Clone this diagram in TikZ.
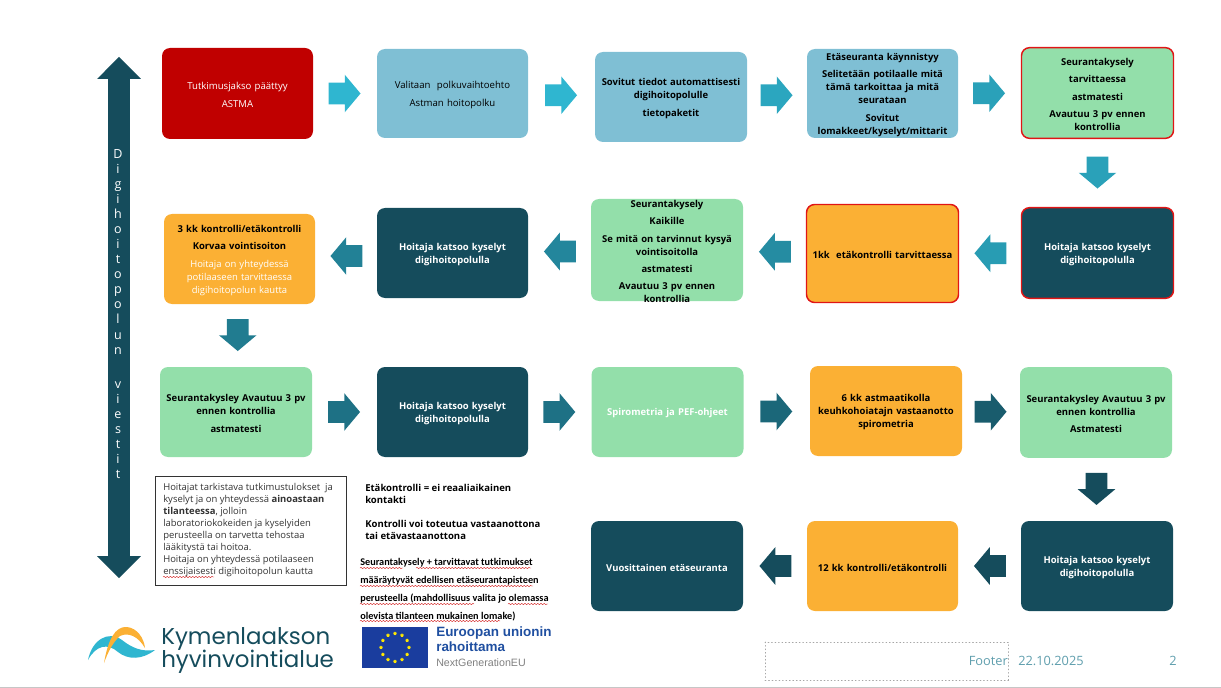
\documentclass[tikz,border=0pt]{standalone}
\usepackage{fontspec}
\setmainfont{Open Sans}
\newfontfamily\notefont{Carlito}
\newfontfamily\logofont{Poppins}
\newfontfamily\eufont{Liberation Sans}
\usetikzlibrary{calc,shapes.arrows,shapes.geometric,decorations.pathmorphing}

\definecolor{boxred}{HTML}{C00000}
\definecolor{boxblue}{HTML}{7FBFD4}
\definecolor{boxgreen}{HTML}{93DFAA}
\definecolor{boxdark}{HTML}{154C5C}
\definecolor{boxorange}{HTML}{FBB034}
\definecolor{borderred}{HTML}{E01515}
\definecolor{logoteal}{HTML}{2FB6D0}
\definecolor{euflag}{HTML}{1A3D9E}
\definecolor{eutext}{HTML}{1F4FA0}
\definecolor{footgray}{HTML}{5F9EAD}

\newcommand\gap{\\[3.3pt]}

\tikzset{
  flowbox/.style={rectangle, rounded corners=6pt, inner sep=0pt, minimum width=114pt, minimum height=67.5pt,
    text width=110pt, align=center, font=\fontsize{7.1}{9.75}\selectfont\bfseries,
    execute at begin node={\leavevmode\vadjust pre{\kern2.2pt}}},
  plainbox/.style={flowbox, font=\fontsize{7.2}{9.75}\selectfont},
  redline/.style={draw=borderred, line width=1.1pt},
  blockarrow/.style={single arrow, single arrow tip angle=100, single arrow head extend=6pt, inner sep=7.9pt,
    minimum height=24pt},
  arrowright/.style={blockarrow, xshift=-3.75pt},
  arrowleft/.style={blockarrow, shape border rotate=180, xshift=3.75pt},
  arrowdown/.style={blockarrow, shape border rotate=270, yshift=3.75pt},
  spellmark/.style={draw=red!80!black, line width=.3pt, decorate, decoration={snake, amplitude=.4pt, segment length=2.4pt}},
}

\begin{document}
\begin{tikzpicture}[x=.75pt, y=-.75pt, line cap=round, >=stealth]

\useasboundingbox (0,0) rectangle (1221,688);
\draw[gray!45, line width=.7pt] (0,687) -- (1221,687);

%% Left double arrow.

\node[double arrow, double arrow tip angle=90, double arrow head extend=8.25pt, inner sep=7.9pt, fill=boxdark,
  minimum height=390.75pt, shape border rotate=90] (viesti) at (119,317.5) {};
\node[text=white, align=center, inner sep=0pt, font=\fontsize{9.4}{11.3}\selectfont] (viestiteksti) at (118,314)
  {D\\i\\g\\i\\h\\o\\i\\t\\o\\p\\o\\l\\u\\n\\[3pt]~\\v\\i\\e\\s\\t\\i\\t};

%% Row 1.

\node[plainbox, fill=boxred, text=white, minimum width=113.25pt, minimum height=68.25pt] (jakso) at (237.5,93.5)
  {Tutkimusjakso päättyy\gap ASTMA};
\node[plainbox, fill=boxblue, text=black, minimum width=113.25pt, minimum height=66.75pt] (valinta) at (452.5,93.5)
  {Valitaan\ \ polkuvaihtoehto\gap Astman hoitopolku};
\node[flowbox, fill=boxblue] (tiedot) at (671,97) {Sovitut tiedot automattisesti\\digihoitopolulle\gap tietopaketit};
\node[flowbox, fill=boxblue, minimum width=113.25pt, minimum height=66.75pt] (kaynnistyy) at (882.5,93.5)
  {Etäseuranta käynnistyy\gap Selitetään potilaalle mitä\\tämä tarkoittaa ja mitä\\seurataan\gap Sovitut\\lomakkeet/kyselyt/mittarit};
\node[flowbox, fill=boxgreen, redline, minimum width=114pt, minimum height=68pt] (seuranta) at (1097.5,93)
  {Seurantakysely\gap tarvittaessa\gap astmatesti\gap Avautuu 3 pv ennen\\kontrollia};

%% Row 2.

\node[flowbox, fill=boxdark, redline, text=white, minimum height=68pt] (katsoo) at (1097.5,253) {Hoitaja katsoo kyselyt\\digihoitopolulla};
\node[flowbox, fill=boxorange, redline, minimum height=73.5pt] (kuukausi) at (882.5,253.5) {1kk\ \ etäkontrolli tarvittaessa};
\node[flowbox, fill=boxgreen, minimum height=76.5pt] (kaikille) at (667,250) {};
\node[flowbox] (kaikilleteksti) at (kaikille.center)
  {Seurantakysely\gap Kaikille\gap Se mitä on tarvinnut kysyä\\vointisoitolla\gap astmatesti\gap Avautuu 3 pv ennen\\kontrollia};
\node[flowbox, fill=boxdark, text=white, minimum width=113.25pt] (katsoob) at (452.5,253) {Hoitaja katsoo kyselyt\\digihoitopolulla};
\node[flowbox, fill=boxorange, minimum width=113.25pt] (kolmekk) at (239.5,259)
  {3 kk kontrolli/etäkontrolli\gap Korvaa vointisoiton\gap {\color{white}\mdseries Hoitaja on yhteydessä\\potilaaseen tarvittaessa\\digihoitopolun kautta}};

%% Row 3.

\node[flowbox, fill=boxgreen] (avautuu) at (236,412) {Seurantakysley Avautuu 3 pv\\ennen kontrollia\gap astmatesti};
\node[flowbox, fill=boxdark, text=white, minimum width=113.25pt] (katsooc) at (452.5,412) {Hoitaja katsoo kyselyt\\digihoitopolulla};
\node[flowbox, fill=boxgreen, text=white] (spiro) at (667.5,412) {Spirometria ja PEF-ohjeet};
\node[flowbox, fill=boxorange] (kuusikk) at (886,411) {6 kk astmaatikolla\\keuhkohoiatajn vastaanotto\\spirometria};
\node[flowbox, fill=boxgreen, minimum height=68pt] (astmatesti) at (1096,412.5) {Seurantakysley Avautuu 3 pv\\ennen kontrollia\gap Astmatesti};

%% Row 4.

\node[flowbox, fill=boxdark, text=white] (katsood) at (1097,566) {Hoitaja katsoo kyselyt\\digihoitopolulla};
\node[flowbox, fill=boxorange, minimum width=113.25pt] (kaksitoista) at (882.5,566) {12 kk kontrolli/etäkontrolli};
\node[flowbox, fill=boxdark, text=white] (vuosi) at (667,566) {Vuosittainen etäseuranta};

%% Block arrows.

\node[arrowright, fill=logoteal] (nuolia) at ($(jakso.east)!.5!(valinta.west)$) {};
\node[arrowright, fill=logoteal] (nuolib) at ($(valinta.east)!.5!(tiedot.west)$) {};
\node[arrowright, fill=logoteal!85!boxdark] (nuolic) at ($(tiedot.east)!.5!(kaynnistyy.west)$) {};
\node[arrowright, fill=logoteal!80!boxdark] (nuolid) at ($(kaynnistyy.east)!.5!(seuranta.west)$) {};
\node[arrowdown, fill=logoteal!80!boxdark] (nuolie) at ($(seuranta.south)!.5!(katsoo.north)$) {};
\node[arrowleft, fill=logoteal!75!boxdark] (nuolif) at ($(katsoo.west)!.5!(kuukausi.east)$) {};
\node[arrowleft, fill=logoteal!60!boxdark] (nuolig) at ($(kuukausi.west)!.5!(kaikille.east)$) {};
\node[arrowleft, fill=logoteal!55!boxdark] (nuolih) at ($(kaikille.west)!.5!(katsoob.east)$) {};
\node[arrowleft, fill=logoteal!50!boxdark] (nuolii) at ($(katsoob.west)!.5!(kolmekk.east)$) {};
\node[arrowdown, fill=logoteal!45!boxdark] (nuolij) at ($(kolmekk.south)!.5!(avautuu.north)$) {};
\node[arrowright, fill=logoteal!35!boxdark] (nuolik) at ($(avautuu.east)!.5!(katsooc.west)$) {};
\node[arrowright, fill=logoteal!35!boxdark] (nuolil) at ($(katsooc.east)!.5!(spiro.west)$) {};
\node[arrowright, fill=logoteal!25!boxdark] (nuolim) at ($(spiro.east)!.5!(kuusikk.west)$) {};
\node[arrowright, fill=logoteal!15!boxdark] (nuolin) at ($(kuusikk.east)!.5!(astmatesti.west)$) {};
\node[arrowdown, fill=boxdark] (nuolio) at ($(astmatesti.south)!.5!(katsood.north)$) {};
\node[arrowleft, fill=boxdark] (nuolip) at ($(katsood.west)!.5!(kaksitoista.east)$) {};
\node[arrowleft, fill=boxdark] (nuoliq) at ($(kaksitoista.west)!.5!(vuosi.east)$) {};

%% Notes.

\node[draw=black!80, line width=.5pt, anchor=north west, inner sep=0pt, minimum width=143.25pt, minimum height=81.75pt] (kehys) at (155,476) {};
\node[anchor=north west, align=left, inner sep=0pt, text=black!80, font=\fontsize{7.1}{9}\selectfont] (ohje) at (163,483.5)
  {Hoitajat tarkistava tutkimustulokset\ \ ja\\kyselyt ja on yhteydessä \textbf{ainoastaan}\\\textbf{tilanteessa}, jolloin\\laboratoriokokeiden ja kyselyiden\\perusteella on tarvetta tehostaa\\lääkitystä tai hoitoa.\\Hoitaja on yhteydessä potilaaseen\\enssijaisesti digihoitopolun kautta};
\node[anchor=north west, align=left, inner sep=0pt, font=\fontsize{7.15}{9}\selectfont\bfseries] (etakontrolli) at (365,484)
  {Etäkontrolli = ei reaaliaikainen\\kontakti\\[9pt]Kontrolli voi toteutua vastaanottona\\tai etävastaanottona};
\node[anchor=north west, align=left, inner sep=0pt, font=\notefont\fontsize{7.7}{13.3}\selectfont\bfseries] (lisatieto) at (360,558.5)
  {Seurantakysely + tarvittavat tutkimukset\\määräytyvät edellisen etäseurantapisteen\\perusteella (mahdollisuus valita jo olemassa\\olevista tilanteen mukainen lomake)};

%% Spelling marks.

\draw[spellmark] (163,577) -- (214,577);
\draw[spellmark] (360,568) -- (403,568);
\draw[spellmark] (416,568) -- (531,568);
\draw[spellmark] (360,586) -- (533,586);
\draw[spellmark] (360,604) -- (474,604);
\draw[spellmark] (508,604) -- (548,604);
\draw[spellmark] (360,621) -- (500,621);

%% Logo of the wellbeing county.

\fill[logoteal] (88,660) .. controls (92,640) and (108,630) .. (122,640) .. controls (132,648) and (142,652) .. (155,650)
  .. controls (142,660) and (128,660) .. (118,652) .. controls (108,643) and (96,645) .. (88,660) -- cycle;
\fill[boxorange] (104,663) .. controls (108,640) and (115,626) .. (127,627) .. controls (137,628) and (144,638) .. (145,648)
  .. controls (138,636) and (128,632) .. (120,636) .. controls (113,642) and (108,652) .. (104,663) -- cycle;
\node[anchor=north west, align=left, inner sep=0pt, text=boxdark, font=\logofont\fontsize{17.2}{21}\selectfont] (logoteksti) at (161,627)
  {Kymenlaakson\\[-3.5pt]hyvinvointialue};

%% EU flag and its text.

\fill[euflag] (362,627) rectangle (428,668);
\foreach \k in {0,30,...,330}
  \node[star, star points=5, fill=yellow!90!orange, inner sep=0pt, minimum size=3pt] (eustar\k) at ($(395,647.5)+(\k:14)$) {};
\node[anchor=north west, align=left, inner sep=0pt, text=eutext, font=\eufont\fontsize{10.1}{11.5}\selectfont\bfseries] (eurahoitus) at (436,626)
  {Euroopan unionin\\rahoittama};
\node[anchor=west, inner sep=0pt, text=black!50, font=\eufont\fontsize{8}{10}\selectfont] (nextgen) at (436,663) {NextGenerationEU};

%% Footer.

\draw[gray!70, dotted, line width=.6pt] (765,642) rectangle (1008,680);
\node[anchor=east, inner sep=0pt, text=footgray, font=\fontsize{9.6}{10}\selectfont] (footer) at (1008,661) {Footer};
\node[anchor=west, inner sep=0pt, text=footgray, font=\fontsize{9.6}{10}\selectfont] (paiva) at (1018,661) {22.10.2025};
\node[anchor=center, inner sep=0pt, text=footgray, font=\fontsize{9.6}{10}\selectfont] (sivu) at (1173,661) {2};

\end{tikzpicture}
\end{document}
